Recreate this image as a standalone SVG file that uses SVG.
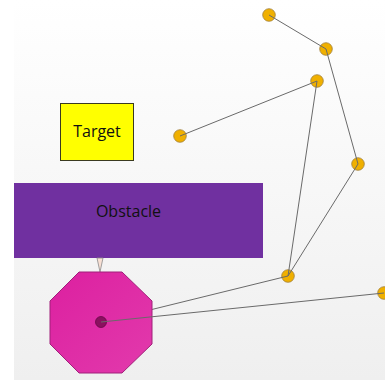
<svg xmlns="http://www.w3.org/2000/svg" width="385" height="381" viewBox="0 0 385 381">
<defs>
<linearGradient id="bg" x1="0" y1="0" x2="0" y2="1">
<stop offset="0" stop-color="#ffffff"/>
<stop offset="1" stop-color="#efefef"/>
</linearGradient>
<linearGradient id="oct" x1="0" y1="0" x2="1" y2="1">
<stop offset="0" stop-color="#dc20a0"/>
<stop offset="1" stop-color="#e23aac"/>
</linearGradient>
<style>
.j{fill:#f0b000;stroke:#a08040;stroke-width:0.8}
.ln{stroke:#6a6a6a;stroke-width:1;fill:none}
.lbl{font-family:"Open Sans","Liberation Sans",sans-serif;font-size:16px;fill:#111;text-anchor:middle}
</style>
</defs>
<rect width="385" height="381" fill="#ffffff"/>
<rect x="14" y="0" width="371" height="380" fill="url(#bg)"/>
<g id="target">
<rect x="60.5" y="103.5" width="73" height="57" fill="#ffff00" stroke="#3a3a20" stroke-width="1"/>
<text class="lbl" x="97" y="137">Target</text>
</g>
<g id="obstacle">
<rect x="14" y="183" width="249" height="75" fill="#7030a0"/>
<text class="lbl" x="128.5" y="217">Obstacle</text>
</g>
<g id="link">
<path d="M97,258 L100,272 L103,258 Z" fill="#f8e0d4" stroke="#8a8a8a" stroke-width="0.8"/>
</g>
<g id="joints">
<circle id="j1" class="j" cx="269" cy="15" r="6.3"/>
<circle id="j2" class="j" cx="326" cy="49" r="6.3"/>
<circle id="j3" class="j" cx="317" cy="81" r="6.3"/>
<circle id="j4" class="j" cx="180" cy="136" r="6.3"/>
<circle id="j5" class="j" cx="358" cy="164" r="6.3"/>
<circle id="j6" class="j" cx="288" cy="276" r="6.3"/>
<circle id="j7" class="j" cx="384" cy="293" r="6.3"/>
</g>
<g id="connectors">
<line class="ln" x1="269" y1="15" x2="326" y2="49"/>
<line class="ln" x1="326" y1="49" x2="358" y2="164"/>
<line class="ln" x1="358" y1="164" x2="288" y2="276"/>
<line class="ln" x1="317" y1="81" x2="180" y2="136"/>
<line class="ln" x1="317" y1="81" x2="288" y2="276"/>
<line class="ln" x1="288" y1="276" x2="101" y2="322"/>
</g>
<g id="base">
<polygon points="79,272 122,272 152,301 152,344 122,373 79,373 50,344 50,301" fill="url(#oct)" stroke="#a0207a" stroke-width="1"/>
<circle cx="101" cy="322" r="5.5" fill="#8b1060" stroke="#6a0848" stroke-width="0.8"/>
</g>
<g id="connectors2">
<line class="ln" x1="101" y1="322" x2="384" y2="293"/>
</g>
</svg>
